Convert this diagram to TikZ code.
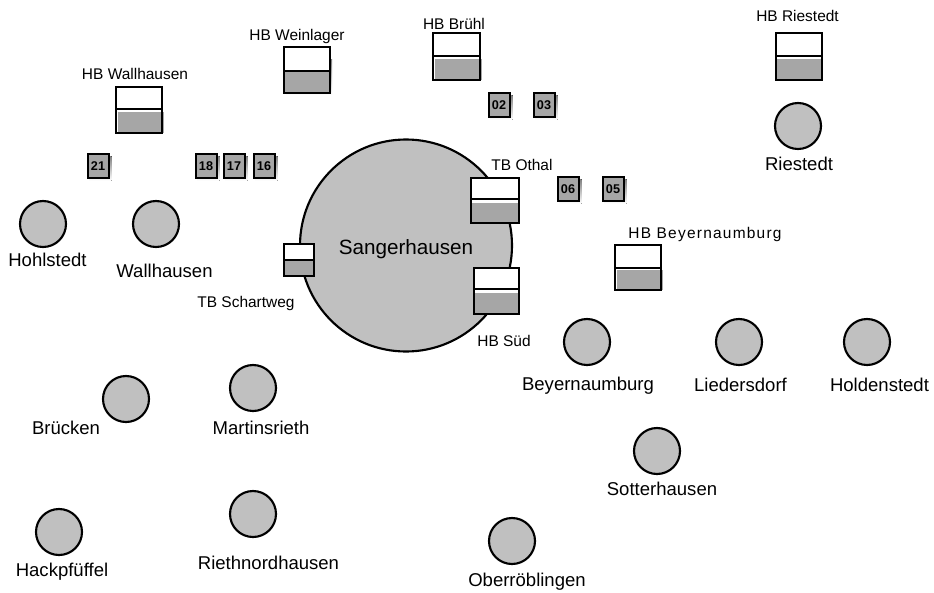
\documentclass[tikz,border=0pt]{standalone}
\usepackage{fontspec}
\setmainfont{Liberation Sans}
\definecolor{cfill}{HTML}{C0C0C0}
\definecolor{tfill}{HTML}{A6A6A6}
\definecolor{shade}{HTML}{ABABAB}
\newcommand{\tankshape}[7]{%
  \fill[white] (#1,#2) rectangle (#3,#5);
  \fill[tfill] (#1+#7,#6) rectangle (#3+#7,#5);
  \draw[tankline] (#1,#2) rectangle (#3,#4);
  \draw[tankline] (#1,#4) -- (#1,#5) -- (#3,#5) -- (#3,#4);
}
\newcommand{\sq}[3]{%
  \fill[shade] (#1-9,#2-10) rectangle (#1+13.5,#2+14.5);
  \node[squarebox] (sq#3) at (#1,#2) {#3};
}
\tikzset{
  tankline/.style={line width=1.6pt,black},
  town/.style={circle,draw=black,line width=1.6pt,fill=cfill,minimum size=34.5pt,inner sep=0pt},
  squarebox/.style={draw=black,line width=1.5pt,fill=tfill,minimum width=15.75pt,minimum height=18pt,inner sep=0pt,font=\fontsize{9.5}{11}\selectfont\bfseries},
  smalllabel/.style={font=\fontsize{11.6}{13}\selectfont,inner sep=0pt,anchor=center},
  townlabel/.style={font=\fontsize{13.9}{15}\selectfont,inner sep=0pt,anchor=center}
}
\begin{document}
\begin{tikzpicture}[x=0.75pt,y=-0.75pt]
\useasboundingbox (0,0) rectangle (934,592);
\node[circle,draw=black,line width=1.6pt,fill=cfill,minimum size=159pt,inner sep=0pt] (sang) at (406,245.5) {};
\node[font=\fontsize{15.5}{18}\selectfont,inner sep=0pt] (sanglabel) at (406,249) {Sangerhausen};
% towns
\node[town] (riestedt) at (798,126) {};
\node[town] (hohlstedt) at (43,224) {};
\node[town] (wallhausen) at (156,224) {};
\node[town] (beyern) at (587,342) {};
\node[town] (lieders) at (739,342) {};
\node[town] (holden) at (867,342) {};
\node[town] (sotter) at (657,451) {};
\node[town] (bruecken) at (126,399) {};
\node[town] (martins) at (253,388) {};
\node[town] (riethn) at (253,514) {};
\node[town] (hack) at (59,532) {};
\node[town] (ober) at (512,541) {};
\node[townlabel] (l1) at (799,164) {Riestedt};
\node[townlabel] (l2) at (47.5,260) {Hohlstedt};
\node[townlabel] (l3) at (164.5,271) {Wallhausen};
\node[townlabel] (l4) at (588,386) {Beyernaumburg};
\node[townlabel] (l5) at (740.5,385) {Liedersdorf};
\node[townlabel] (l6) at (879.5,385) {Holdenstedt};
\node[townlabel] (l7) at (662,489) {Sotterhausen};
\node[townlabel] (l8) at (66,428) {Brücken};
\node[townlabel] (l9) at (261,428) {Martinsrieth};
\node[townlabel] (l10) at (268.5,563) {Riethnordhausen};
\node[townlabel] (l11) at (62,572) {Hackpfüffel};
\node[townlabel] (l12) at (527,582) {Oberröblingen};
% tanks
\tankshape{116}{87}{162}{109}{133}{112}{2}
\fill[shade] (286,60) rectangle (332,95);
\tankshape{284}{47}{330}{71}{93}{72}{0}
\tankshape{433}{33}{480}{56}{80}{59}{2}
\tankshape{776}{33}{822}{56}{80}{59}{0}
\tankshape{471}{178}{519}{199}{223}{203}{0}
\tankshape{474}{268}{519}{289}{314}{293}{0}
\tankshape{615}{245}{661}{268}{290}{270}{2}
\tankshape{284}{244}{314}{260}{276}{261}{0}
\node[smalllabel] (t1) at (135,74) {HB Wallhausen};
\node[smalllabel] (t2) at (297,37) {HB Weinlager};
\node[smalllabel] (t3) at (454,24) {HB Brühl};
\node[smalllabel] (t4) at (797.5,16) {HB Riestedt};
\node[smalllabel] (t5) at (522,165) {TB Othal};
\node[smalllabel] (t6) at (504,341) {HB Süd};
\node[smalllabel,font=\fontsize{11.6}{13}\selectfont\addfontfeature{LetterSpace=8}] (t7) at (705,234) {HB Beyernaumburg};
\node[smalllabel] (t8) at (246,303) {TB Schartweg};
% squares
\sq{98}{166}{21}
\sq{206}{166}{18}
\sq{234}{166}{17}
\sq{264}{166}{16}
\sq{499}{105}{02}
\sq{544}{105}{03}
\sq{568}{189}{06}
\sq{613}{189}{05}
\end{tikzpicture}
\end{document}
